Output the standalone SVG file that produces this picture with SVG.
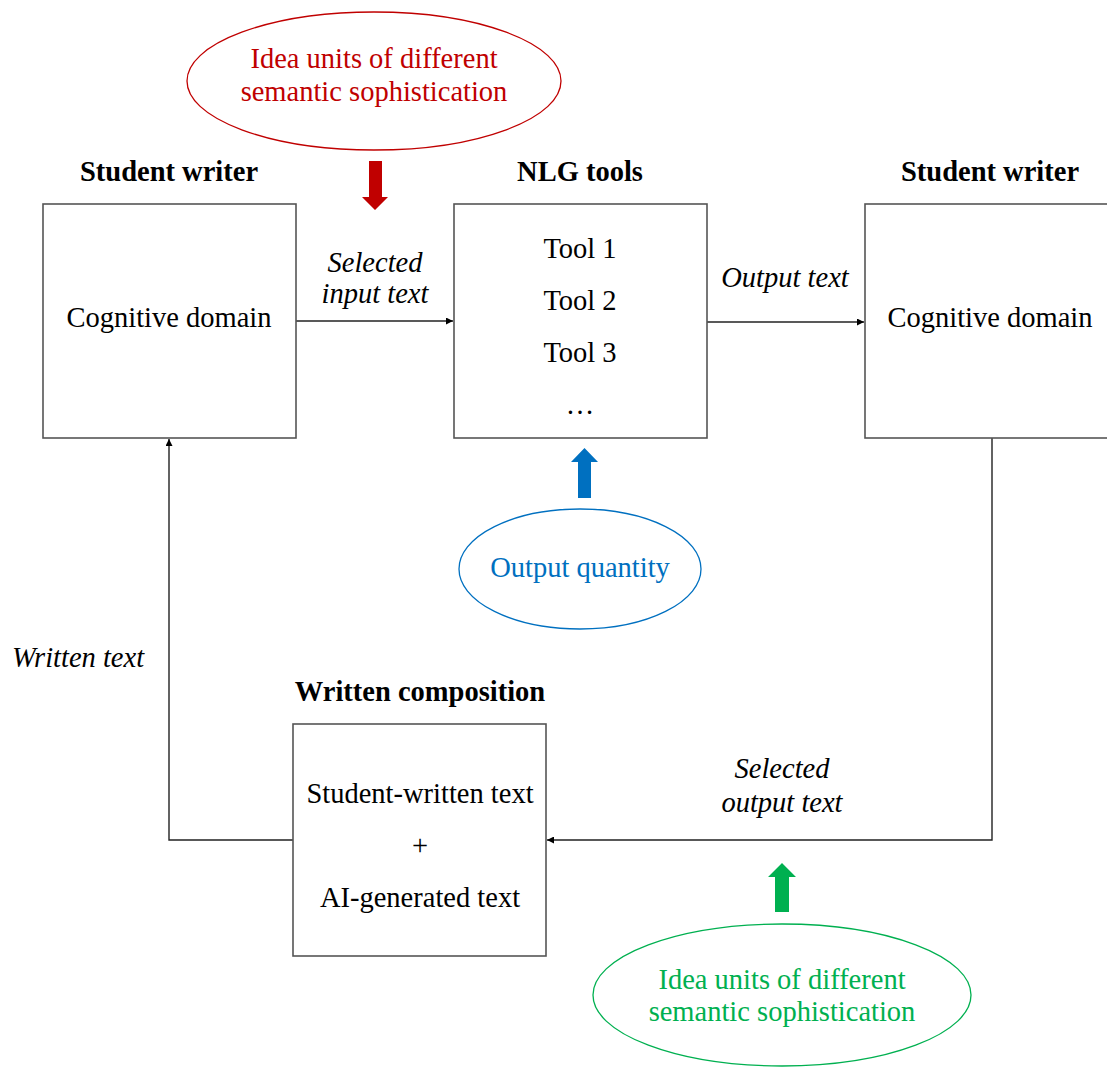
<svg xmlns="http://www.w3.org/2000/svg" width="1107" height="1072" viewBox="0 0 1107 1072">
<style>
text{font-family:"Liberation Serif","Times New Roman",serif;font-size:28.5px;text-anchor:middle;fill:#000}
.b{font-weight:bold}
.i{font-style:italic}
.box{fill:#fff;stroke:#555;stroke-width:1.6}
.con{fill:none;stroke:#222;stroke-width:1.4}
</style>
<defs>
<marker id="ah" viewBox="0 0 10 10" refX="10" refY="5" markerWidth="7" markerHeight="7" markerUnits="userSpaceOnUse" orient="auto">
<path d="M0,0 L10,5 L0,10 z" fill="#000"/>
</marker>
</defs>
<rect width="1107" height="1072" fill="#fff"/>

<g id="connectors">
<line class="con" x1="296" y1="321" x2="453" y2="321" marker-end="url(#ah)"/>
<line class="con" x1="707" y1="322" x2="864" y2="322" marker-end="url(#ah)"/>
<polyline class="con" points="992,438 992,840 547,840" marker-end="url(#ah)"/>
<polyline class="con" points="293,840 169,840 169,439" marker-end="url(#ah)"/>
<text class="i" x="375" y="272">Selected</text>
<text class="i" x="375" y="303">input text</text>
<text class="i" x="785" y="287">Output text</text>
<text class="i" x="78" y="667">Written text</text>
<text class="i" x="782" y="778">Selected</text>
<text class="i" x="782" y="812">output text</text>
</g>

<g id="student-writer-left">
<text class="b" x="169" y="181">Student writer</text>
<rect class="box" x="43" y="204" width="253" height="234"/>
<text x="169" y="327">Cognitive domain</text>
</g>

<g id="nlg-tools">
<text class="b" x="580" y="181">NLG tools</text>
<rect class="box" x="454" y="204" width="253" height="234"/>
<text x="580" y="258">Tool 1</text>
<text x="580" y="310">Tool 2</text>
<text x="580" y="362">Tool 3</text>
<text x="580" y="414">…</text>
</g>

<g id="student-writer-right">
<text class="b" x="990" y="181">Student writer</text>
<rect class="box" x="865" y="204" width="260" height="234"/>
<text x="990" y="327">Cognitive domain</text>
</g>

<g id="written-composition">
<text class="b" x="420" y="701">Written composition</text>
<rect class="box" x="293" y="724" width="253" height="232"/>
<text x="420" y="803">Student-written text</text>
<text x="420" y="855">+</text>
<text x="420" y="907">AI-generated text</text>
</g>

<g id="idea-units-top">
<ellipse cx="374" cy="81" rx="187" ry="69" fill="#fff" stroke="#c00000" stroke-width="1.3"/>
<text x="374" y="68" fill="#c00000" style="fill:#c00000">Idea units of different</text>
<text x="374" y="101" style="fill:#c00000">semantic sophistication</text>
<path d="M369,161 H382 V197 H388 L375,210 L362,197 H369 Z" fill="#c00000"/>
</g>

<g id="output-quantity">
<path d="M578,498 V462 H571 L584.5,448 L598,462 H591 V498 Z" fill="#0070c0"/>
<ellipse cx="580" cy="569" rx="121" ry="60" fill="#fff" stroke="#0070c0" stroke-width="1.3"/>
<text x="580" y="577" style="fill:#0070c0">Output quantity</text>
</g>

<g id="idea-units-bottom">
<path d="M775,912 V877 H768 L782,863 L796,877 H789 V912 Z" fill="#00b050"/>
<ellipse cx="782" cy="995" rx="189" ry="71" fill="#fff" stroke="#00b050" stroke-width="1.3"/>
<text x="782" y="989" style="fill:#00b050">Idea units of different</text>
<text x="782" y="1021" style="fill:#00b050">semantic sophistication</text>
</g>
</svg>
